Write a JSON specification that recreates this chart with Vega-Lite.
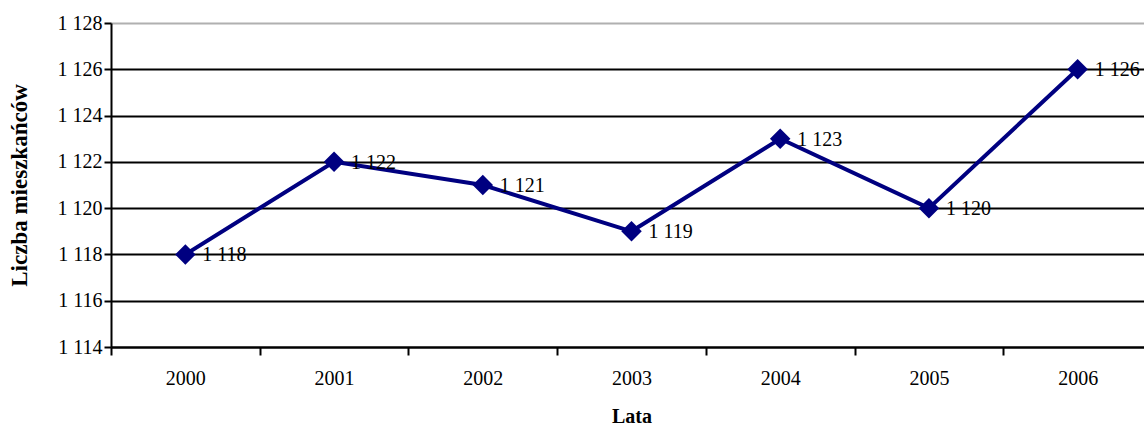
{
  "$schema": "https://vega.github.io/schema/vega-lite/v6.json",
  "autosize": {"type": "none"},
  "width": 1033,
  "height": 324,
  "padding": {"left": 111, "top": 23, "right": 0, "bottom": 81},
  "background": "white",
  "data": {"values": [
    {"rok": "2000", "liczba": 1118},
    {"rok": "2001", "liczba": 1122},
    {"rok": "2002", "liczba": 1121},
    {"rok": "2003", "liczba": 1119},
    {"rok": "2004", "liczba": 1123},
    {"rok": "2005", "liczba": 1120},
    {"rok": "2006", "liczba": 1126}
  ]},
  "encoding": {
    "x": {
      "field": "rok", "type": "ordinal",
      "scale": {"type": "band", "range": [0, 1041], "paddingInner": 0, "paddingOuter": 0},
      "axis": {
        "title": "Lata", "labelAngle": 0, "bandPosition": 0, "tickBand": "extent",
        "grid": false, "tickSize": 8, "labelPadding": 13, "titlePadding": 18, "titleFontSize": 20
      }
    },
    "y": {
      "field": "liczba", "type": "quantitative",
      "scale": {"domain": [1114, 1128], "nice": false, "zero": false},
      "axis": {
        "title": "Liczba mieszkańców",
        "values": [1114, 1116, 1118, 1120, 1122, 1124, 1126, 1128],
        "format": ",d",
        "grid": true,
        "gridColor": {"condition": {"test": "datum.value == 1128", "value": "#b0b0b0"}, "value": "black"},
        "gridWidth": 2,
        "tickSize": 7, "labelPadding": 2, "titlePadding": 26, "titleFontSize": 23
      }
    }
  },
  "layer": [
    {"mark": {"type": "line", "color": "#000080", "strokeWidth": 4}},
    {"mark": {"type": "point", "shape": "diamond", "filled": true, "size": 420, "color": "#000080", "opacity": 1}},
    {
      "mark": {"type": "text", "align": "left", "baseline": "middle", "dx": 17, "dy": 1, "font": "Liberation Serif", "fontSize": 20, "color": "black"},
      "encoding": {"text": {"field": "liczba", "type": "quantitative", "format": ",d"}}
    }
  ],
  "config": {
    "locale": {"number": {"decimal": ",", "thousands": " ", "grouping": [3], "currency": ["", ""]}},
    "view": {"stroke": null},
    "axis": {
      "domainColor": "black", "domainWidth": 2, "tickColor": "black", "tickWidth": 2,
      "labelFont": "Liberation Serif", "labelFontSize": 20, "labelColor": "black",
      "titleFont": "Liberation Serif", "titleFontWeight": "bold", "titleColor": "black"
    }
  }
}
